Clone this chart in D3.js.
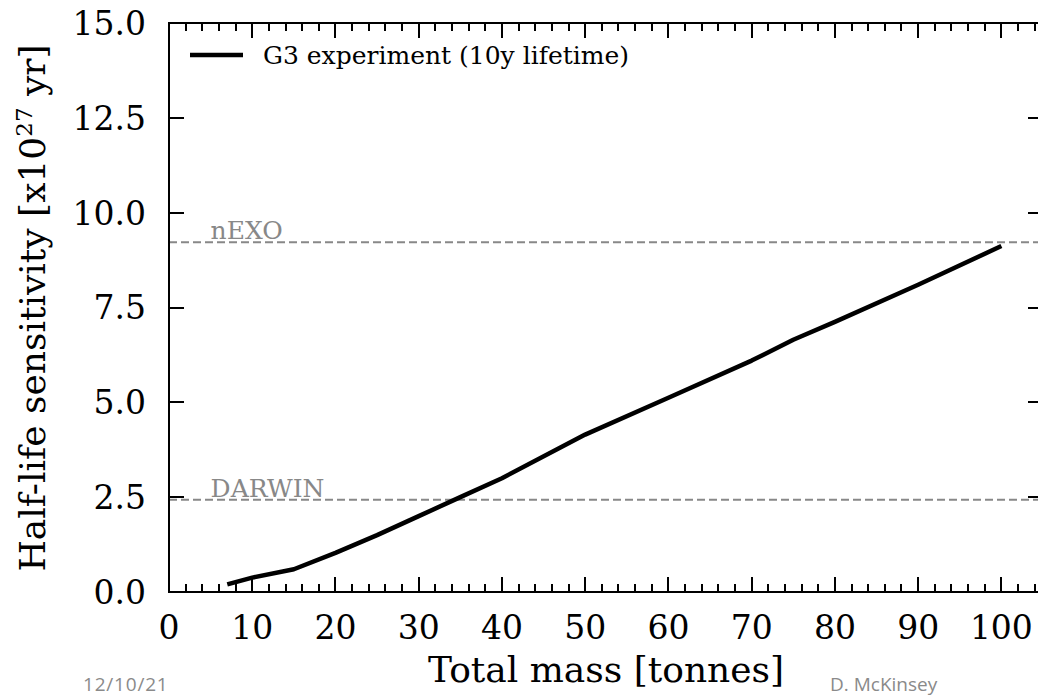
<!DOCTYPE html>
<html>
<head>
<meta charset="utf-8">
<script src="https://cdn.jsdelivr.net/npm/d3@7"></script>
<style>
  html, body { margin: 0; padding: 0; background: #fff; overflow: hidden; }
</style>
</head>
<body>
<div id="chart"></div>
<script>
(function() {
    'use strict';

    // Data
    var massTonnes = [7, 10, 15, 20, 25, 30, 35, 40, 50, 60, 70, 75, 80, 90, 100];
    var halfLife = [0.2, 0.38, 0.6, 1.03, 1.5, 2.0, 2.5, 3.0, 4.15, 5.12, 6.1, 6.65, 7.12, 8.1, 9.12];
    var refNames = ['nEXO', 'DARWIN'];
    var refValues = [9.22, 2.43];
    var xTicks = [0, 10, 20, 30, 40, 50, 60, 70, 80, 90, 100];
    var yTicks = [0, 2.5, 5, 7.5, 10, 12.5, 15];

    var SERIF = '"DejaVu Serif", serif';
    var SANS = '"Open Sans", sans-serif';

    var width = 1038, height = 698;
    var margin = { left: 169, top: 23, right: 1043, bottom: 592 };

    var svg = d3.select('#chart').append('svg')
        .attr('width', width)
        .attr('height', height)
        .style('font-family', SERIF);

    var x = d3.scaleLinear().domain([0, 105]).range([margin.left, margin.right]);
    var y = d3.scaleLinear().domain([0, 15]).range([margin.bottom, margin.top]);

    var minorX = d3.range(0, 106, 2).filter(function(v) { return v % 10 !== 0; });

    // Reference lines (dashed)
    var refs = svg.append('g');
    refs.selectAll('line')
        .data(refValues)
        .join('line')
        .attr('x1', x(0)).attr('x2', x(105))
        .attr('y1', function(d) { return y(d); })
        .attr('y2', function(d) { return y(d); })
        .attr('stroke', '#888')
        .attr('stroke-width', 2)
        .attr('stroke-dasharray', '8,4');
    refs.selectAll('text')
        .data(refNames)
        .join('text')
        .attr('x', x(5))
        .attr('y', function(d, i) { return y(refValues[i]) - 3; })
        .attr('fill', '#888')
        .attr('font-size', 25)
        .text(function(d) { return d; });

    // Main curve
    var line = d3.line()
        .x(function(d) { return x(d[0]); })
        .y(function(d) { return y(d[1]); });
    svg.append('path')
        .datum(massTonnes.map(function(m, i) { return [m, halfLife[i]]; }))
        .attr('d', line)
        .attr('fill', 'none')
        .attr('stroke', '#000')
        .attr('stroke-width', 4.5)
        .attr('stroke-linejoin', 'round');

    // Ticks pointing inward on all four sides
    var ticks = svg.append('g').attr('fill', '#000');
    var TW = 2;

    function xTickMarks(values, len) {
        ticks.append('g').selectAll('rect')
            .data(values).join('rect')
            .attr('x', function(d) { return Math.round(x(d)) - TW / 2; })
            .attr('y', margin.bottom - len)
            .attr('width', TW).attr('height', len);
        ticks.append('g').selectAll('rect')
            .data(values).join('rect')
            .attr('x', function(d) { return Math.round(x(d)) - TW / 2; })
            .attr('y', margin.top)
            .attr('width', TW).attr('height', len);
    }
    xTickMarks(xTicks, 15);
    xTickMarks(minorX, 8);

    ticks.append('g').selectAll('rect')
        .data(yTicks).join('rect')
        .attr('x', margin.left)
        .attr('y', function(d) { return Math.round(y(d)) - TW / 2; })
        .attr('width', 15).attr('height', TW);
    ticks.append('g').selectAll('rect')
        .data(yTicks).join('rect')
        .attr('x', margin.right - 15)
        .attr('y', function(d) { return Math.round(y(d)) - TW / 2; })
        .attr('width', 15).attr('height', TW);

    // Tick labels
    svg.append('g').selectAll('text')
        .data(xTicks).join('text')
        .attr('x', function(d) { return x(d); })
        .attr('y', 639)
        .attr('text-anchor', 'middle')
        .attr('font-size', 33)
        .text(d3.format('d'));

    svg.append('g').selectAll('text')
        .data(yTicks).join('text')
        .attr('x', 146)
        .attr('y', function(d) { return y(d); })
        .attr('dy', '0.36em')
        .attr('text-anchor', 'end')
        .attr('font-size', 33)
        .text(d3.format('.1f'));

    // Frame
    svg.append('rect')
        .attr('x', margin.left).attr('y', margin.top)
        .attr('width', margin.right - margin.left)
        .attr('height', margin.bottom - margin.top)
        .attr('fill', 'none')
        .attr('stroke', '#000')
        .attr('stroke-width', 2);

    // Legend
    svg.append('line')
        .attr('x1', 190).attr('x2', 243)
        .attr('y1', 55).attr('y2', 55)
        .attr('stroke', '#000').attr('stroke-width', 4.5);
    svg.append('text')
        .attr('x', 263).attr('y', 64)
        .attr('font-size', 25)
        .text('G3 experiment (10y lifetime)');

    // Axis labels
    svg.append('text')
        .attr('x', x(52.5)).attr('y', 682)
        .attr('text-anchor', 'middle')
        .attr('font-size', 36)
        .text('Total mass [tonnes]');

    var yl = svg.append('text')
        .attr('transform', 'translate(45,308) rotate(-90)')
        .attr('text-anchor', 'middle')
        .attr('font-size', 36);
    yl.append('tspan').text('Half-life sensitivity [x10');
    yl.append('tspan').attr('dy', -13).attr('font-size', 23).text('27');
    yl.append('tspan').attr('dy', 13).text(' yr]');

    // Slide footer
    svg.append('text')
        .attr('x', 83).attr('y', 691)
        .style('font-family', SANS)
        .attr('font-size', 19)
        .attr('letter-spacing', 0.8)
        .attr('fill', '#8a8a8a')
        .text('12/10/21');
    svg.append('text')
        .attr('x', 830).attr('y', 691)
        .style('font-family', SANS)
        .attr('font-size', 19)
        .attr('fill', '#8a8a8a')
        .text('D. McKinsey');
})();
</script>
</body>
</html>
